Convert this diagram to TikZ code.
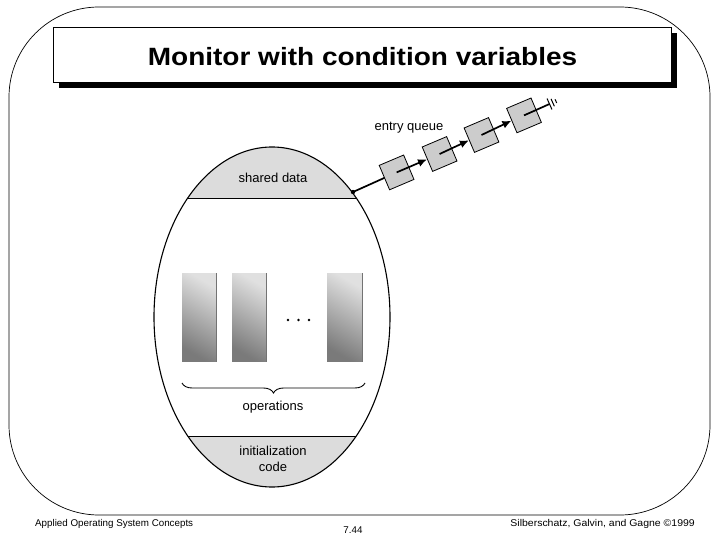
\documentclass[tikz,border=0pt]{standalone}
\usepackage{fontspec}
\setmainfont{Liberation Sans}
\usetikzlibrary{arrows.meta,decorations.pathreplacing,calc}
\definecolor{segfill}{HTML}{DCDCDC}
\definecolor{qfill}{HTML}{CCCCCC}
\begin{document}
\begin{tikzpicture}[x=1pt,y=-1pt,
  lbl/.style={inner sep=0pt,font=\fontsize{13}{15}\selectfont},
  qbox/.style={draw=black,line width=0.8pt,fill=qfill,minimum size=26.5pt,inner sep=0pt,rotate=23},
  wire/.style={line width=1.7pt},
  qarrow/.style={wire,-{Latex[length=9pt,width=8pt]}},
  oprect/.style={shading=axis,top color=black!12,bottom color=black!52,shading angle=-30},
  foot/.style={inner sep=0pt,font=\fontsize{9.8}{11}\selectfont}]
\useasboundingbox (0,0) rectangle (720,540);
% outer frame
\draw[line width=0.7pt,rounded corners=90pt] (9,7) rectangle (710,515);
% title box with shadow
\fill[black] (59,33) rectangle (677,88);
\node[draw=black,fill=white,line width=0.8pt,minimum width=618pt,minimum height=55pt,inner sep=0pt] (title) at (362,54.5) {};
\node[inner sep=0pt] (titletext) at (362.5,56.5) {\scalebox{1.12}[1]{\fontsize{25}{30}\selectfont\bfseries Monitor with condition variables}};
% monitor ellipse
\begin{scope}
  \clip (272,317) ellipse [x radius=118pt, y radius=170pt];
  \fill[segfill] (100,100) rectangle (450,199);
  \fill[segfill] (100,436) rectangle (450,520);
  \draw[line width=1pt] (100,199) -- (450,199);
  \draw[line width=1pt] (100,436) -- (450,436);
\end{scope}
\draw[line width=1.1pt] (272,317) ellipse [x radius=118pt, y radius=170pt];
\node[lbl] (shared) at (273,178) {shared data};
\node[lbl,align=center,font=\fontsize{13}{16}\selectfont] (init) at (273,459) {initialization\\code};
% operations
\shade[oprect] (182,273) rectangle (216.5,361.5);
\shade[oprect] (232,273) rectangle (266.5,361.5);
\shade[oprect] (327,273) rectangle (362,361.5);
\draw[black!55,line width=0.8pt] (216.5,273) -- (216.5,361.5);
\draw[black!55,line width=0.8pt] (266.5,273) -- (266.5,361.5);
\draw[black!55,line width=0.8pt] (362,273) -- (362,361.5);
\foreach \x in {288,298.5,309} \fill (\x,320) circle (1.4pt);
\draw[line width=0.9pt,decorate,decoration={brace,amplitude=10pt,mirror}] (182,383) -- (365,383);
\node[lbl] (ops) at (273,407) {operations};
% entry queue
\node[lbl] (eq) at (409,128) {entry queue};
\coordinate (d) at (353,192);
\coordinate (b1c) at (396.6,172.4);
\draw[wire] (d) -- (b1c);
\fill (d) circle (2.2pt);
\node[qbox] (b1) at (396.6,172.4) {};
\node[qbox] (b2) at (439.6,154) {};
\node[qbox] (b3) at (481.5,135) {};
\node[qbox] (b4) at (524,115.4) {};
\draw[qarrow] (b1.center) -- (b2.west);
\draw[qarrow] (b2.center) -- (b3.west);
\draw[qarrow] (b3.center) -- (b4.west);
\coordinate (g) at (549.5,104);
\draw[wire] (b4.center) -- (g);
\draw[line width=1pt] ($(g)+(-2.44,-5.48)$) -- ($(g)+(2.44,5.48)$);
\draw[line width=1pt] ($(g)+(3.2,-1.42)+(-1.63,-3.65)$) -- ($(g)+(3.2,-1.42)+(1.63,3.65)$);
\draw[line width=1pt] ($(g)+(6.4,-2.85)+(-0.81,-1.83)$) -- ($(g)+(6.4,-2.85)+(0.81,1.83)$);
% footer
\node[foot,anchor=west] (fl) at (35,524) {Applied Operating System Concepts};
\node[foot] (fc) at (353,530) {7.44};
\node[foot,anchor=east] (fr) at (695,524) {\scalebox{1.07}[1]{Silberschatz, Galvin, and Gagne ©1999}};
\end{tikzpicture}
\end{document}
